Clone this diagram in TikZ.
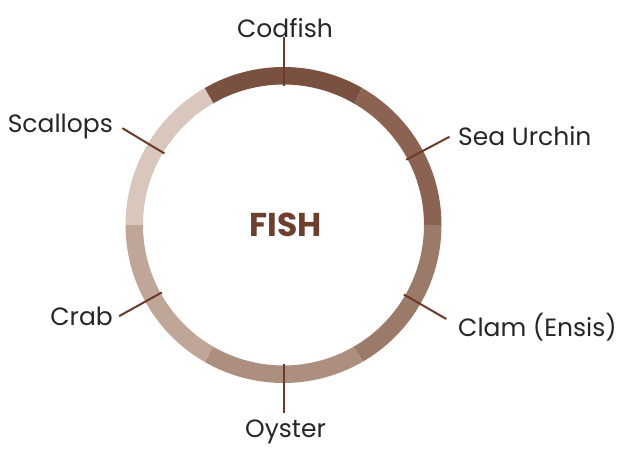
\documentclass[tikz,border=0pt]{standalone}
\usepackage{fontspec}
\setmainfont{Poppins}
\newfontfamily\headfont{Poppins Bold}
\definecolor{segA}{HTML}{7A5040}
\definecolor{segB}{HTML}{8C6352}
\definecolor{segC}{HTML}{9C7A6A}
\definecolor{segD}{HTML}{AD8F80}
\definecolor{segE}{HTML}{C0A699}
\definecolor{segF}{HTML}{D9C6BD}
\definecolor{tickc}{HTML}{6B3A2A}
\definecolor{labelc}{HTML}{262626}
\definecolor{titlec}{HTML}{6E3F2F}
\begin{document}
\begin{tikzpicture}[x=1pt,y=1pt,
  ringseg/.style={line width=17.5pt},
  tickline/.style={draw=tickc,line width=2pt},
  lbl/.style={inner sep=0pt,text=labelc,font=\fontsize{25}{28}\selectfont}]
\useasboundingbox (0,0) rectangle (626,448);
\coordinate (C) at (283.5,223);
% ring segments, 60 degrees each
\foreach \a/\b/\c in {60/120/segA,0/60/segB,-60/0/segC,-120/-60/segD,-180/-120/segE,120/180/segF}
  \draw[ringseg,\c] ([shift={(\a:149.25)}]C) arc (\a:\b:149.25);
% tick end points
\foreach \n/\ang in {cod/90,sea/28,clam/-30,oys/-90,crab/209,scal/149}{
  \coordinate (\n-in) at ([shift={(\ang:139)}]C);
  \coordinate (\n-out) at ([shift={(\ang:188)}]C);
}
\foreach \n in {cod,sea,clam,oys,crab,scal}
  \draw[tickline] (\n-in) -- (\n-out);
% centre title
\node[inner sep=0pt,text=titlec,font=\headfont\fontsize{33}{36}\selectfont,anchor=base] (title) at (286,212) {FISH};
% labels
\node[lbl,anchor=base] (codfish) at (285,410) {Codfish};
\node[lbl,anchor=base west] (seaurchin) at (458,302.3) {Sea Urchin};
\node[lbl,anchor=base west] (clam) at (458,112) {Clam (Ensis)};
\node[lbl,anchor=base] (oyster) at (285.5,11) {Oyster};
\node[lbl,anchor=base east] (crab) at (113,123) {Crab};
\node[lbl,anchor=base east] (scallops) at (113,316) {Scallops};
\end{tikzpicture}
\end{document}
